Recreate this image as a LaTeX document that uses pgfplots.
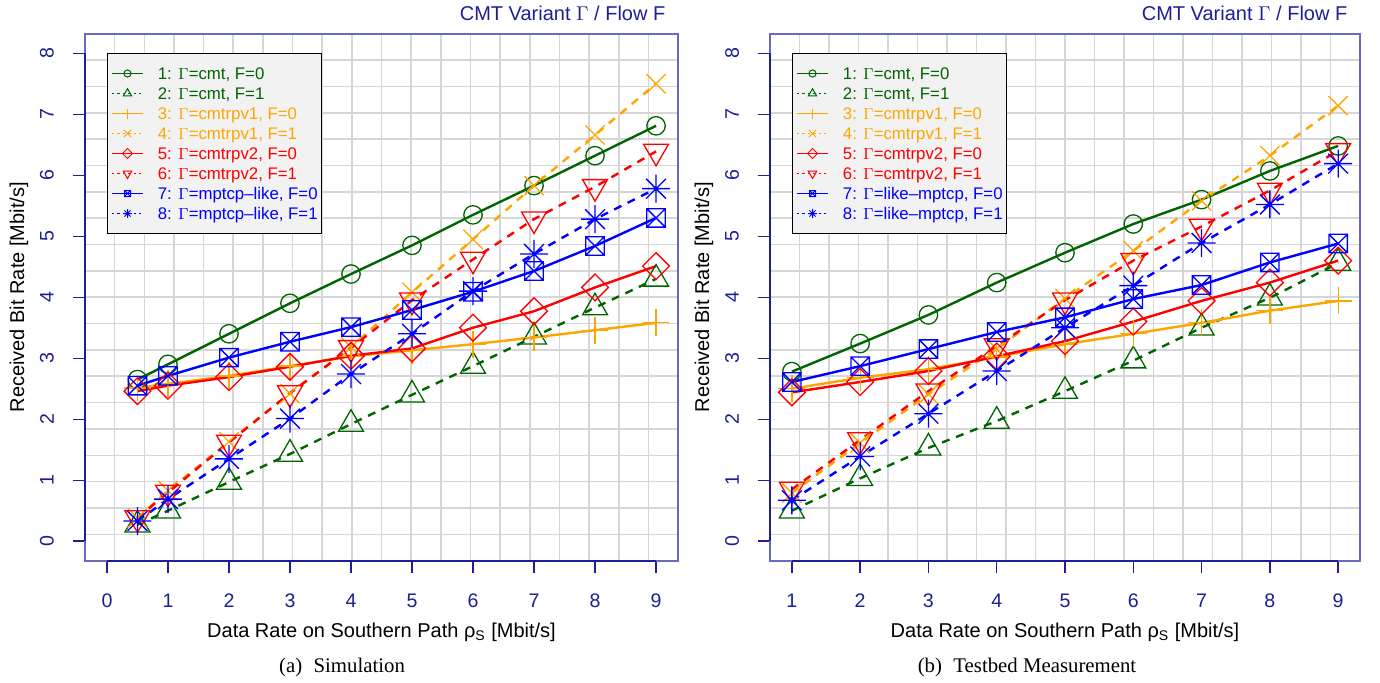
\documentclass[border=0pt]{standalone}
\usepackage{fontspec}
\setmainfont{Liberation Sans}
\newfontfamily\capfont{Liberation Serif}
\usepackage{pgfplots}
\usepackage{pgfplotstable}
\pgfplotsset{compat=1.18}

\definecolor{cgreen}{RGB}{0,100,0}
\definecolor{corange}{RGB}{255,165,0}
\definecolor{cred}{RGB}{255,0,0}
\definecolor{cblue}{RGB}{0,0,255}
\definecolor{navy}{RGB}{30,30,150}
\definecolor{boxc}{RGB}{105,105,195}
\definecolor{gridc}{RGB}{214,214,214}

% R-like plotting symbols
\pgfdeclareplotmark{boxx}{%
  \pgfpathrectangle{\pgfqpoint{-\pgfplotmarksize}{-\pgfplotmarksize}}{\pgfqpoint{2\pgfplotmarksize}{2\pgfplotmarksize}}%
  \pgfpathmoveto{\pgfqpoint{-\pgfplotmarksize}{-\pgfplotmarksize}}\pgfpathlineto{\pgfqpoint{\pgfplotmarksize}{\pgfplotmarksize}}%
  \pgfpathmoveto{\pgfqpoint{-\pgfplotmarksize}{\pgfplotmarksize}}\pgfpathlineto{\pgfqpoint{\pgfplotmarksize}{-\pgfplotmarksize}}%
  \pgfusepathqstroke}
\pgfdeclareplotmark{star8}{%
  \pgfpathmoveto{\pgfqpoint{-\pgfplotmarksize}{0pt}}\pgfpathlineto{\pgfqpoint{\pgfplotmarksize}{0pt}}%
  \pgfpathmoveto{\pgfqpoint{0pt}{-\pgfplotmarksize}}\pgfpathlineto{\pgfqpoint{0pt}{\pgfplotmarksize}}%
  \pgfpathmoveto{\pgfqpoint{-.7071\pgfplotmarksize}{-.7071\pgfplotmarksize}}\pgfpathlineto{\pgfqpoint{.7071\pgfplotmarksize}{.7071\pgfplotmarksize}}%
  \pgfpathmoveto{\pgfqpoint{-.7071\pgfplotmarksize}{.7071\pgfplotmarksize}}\pgfpathlineto{\pgfqpoint{.7071\pgfplotmarksize}{-.7071\pgfplotmarksize}}%
  \pgfusepathqstroke}
\pgfdeclareplotmark{tridown}{%
  \pgfpathmoveto{\pgfqpointpolar{-90}{\pgfplotmarksize}}%
  \pgfpathlineto{\pgfqpointpolar{30}{\pgfplotmarksize}}%
  \pgfpathlineto{\pgfqpointpolar{150}{\pgfplotmarksize}}%
  \pgfpathclose\pgfusepathqstroke}
\pgfdeclareplotmark{diam}{%
  \pgfpathmoveto{\pgfqpoint{0pt}{\pgfplotmarksize}}%
  \pgfpathlineto{\pgfqpoint{\pgfplotmarksize}{0pt}}%
  \pgfpathlineto{\pgfqpoint{0pt}{-\pgfplotmarksize}}%
  \pgfpathlineto{\pgfqpoint{-\pgfplotmarksize}{0pt}}%
  \pgfpathclose\pgfusepathqstroke}

\tikzset{rdash/.style={dash pattern=on 4pt off 3.5pt},
         ldash/.style={dash pattern=on 1.2pt off 1.5pt}}

% simulation
\pgfplotstableread{
x    s1   s2   s3   s4   s5   s6   s7   s8
0.5  2.65 0.27 2.51 0.38 2.46 0.38 2.55 0.33
1    2.90 0.50 2.58 0.83 2.55 0.80 2.71 0.69
2    3.40 0.97 2.71 1.63 2.69 1.62 3.01 1.35
3    3.90 1.43 2.87 2.42 2.86 2.43 3.27 2.01
4    4.38 1.92 3.03 3.18 3.04 3.17 3.51 2.74
5    4.85 2.40 3.13 4.08 3.16 3.95 3.79 3.40
6    5.35 2.87 3.23 4.95 3.50 4.62 4.09 4.10
7    5.83 3.35 3.34 5.83 3.77 5.28 4.43 4.71
8    6.32 3.83 3.46 6.66 4.16 5.81 4.84 5.28
9    6.81 4.30 3.58 7.50 4.51 6.39 5.30 5.78
}\simdata

% testbed
\pgfplotstableread{
x    s1   s2   s3   s4   s5   s6   s7   s8
1    2.78 0.50 2.50 0.79 2.44 0.85 2.61 0.67
2    3.24 1.03 2.68 1.61 2.61 1.66 2.87 1.39
3    3.71 1.53 2.82 2.41 2.79 2.46 3.15 2.09
4    4.24 1.97 3.02 3.15 3.03 3.20 3.43 2.79
5    4.73 2.46 3.23 3.98 3.28 3.95 3.67 3.50
6    5.20 2.96 3.40 4.76 3.60 4.60 3.97 4.19
7    5.60 3.50 3.58 5.58 3.94 5.16 4.20 4.89
8    6.07 3.99 3.78 6.32 4.24 5.75 4.57 5.52
9    6.48 4.56 3.94 7.14 4.60 6.40 4.88 6.19
}\bedddata

\pgfplotsset{
  s1/.style={cgreen, mark=o, mark size=4.6pt},
  s2/.style={cgreen, rdash, mark=triangle, mark size=7.2pt},
  s3/.style={corange, mark=+, mark size=6.7pt},
  s4/.style={corange, rdash, mark=x, mark size=6.8pt},
  s5/.style={cred, mark=diam, mark size=6.7pt},
  s6/.style={cred, rdash, mark=tridown, mark size=7.2pt},
  s7/.style={cblue, mark=boxx, mark size=4.6pt},
  s8/.style={cblue, rdash, mark=star8, mark size=7pt},
  lg/.style={line width=0.5pt, mark options={solid, line width=0.5pt}},
  rplot/.style={
    scale only axis, height=263.5pt, anchor=south west,
    ymin=-0.32, ymax=8.32, ytick={0,...,8},
    minor ytick={0.112,0.544,...,7.9},
    clip=false,
    xtick pos=lower, ytick pos=left,
    tick align=outside, major tick length=6.2pt, minor tick length=0pt,
    xticklabel shift=13.8pt, yticklabel shift=12.8pt,
    tick style={navy, line width=0.7pt},
    axis line style={boxc, line width=0.8pt},
    xminorgrids=true, yminorgrids=true,
    minor grid style={gridc, line width=0.8pt},
    /pgf/number format/assume math mode=true,
    ticklabel style={font=\fontsize{9.8}{11}\selectfont, text=navy},
    xticklabel style={anchor=center},
    yticklabel style={rotate=90, anchor=center},
    label style={font=\fontsize{10.6}{12}\selectfont, text=navy},
    every axis x label/.style={at={(axis description cs:0.5,0)}, anchor=center, yshift=-35.6pt},
    every axis y label/.style={at={(axis description cs:0,0.5)}, rotate=90, anchor=center, yshift=33pt},
    xlabel={Data Rate on Southern Path ρ\textsubscript{S} [Mbit/s]},
    ylabel={Received Bit Rate [Mbit/s]},
    title={CMT Variant $\Gamma$ / Flow F},
    every axis title shift=0pt,
    title style={at={(axis description cs:1,1)}, anchor=base east, yshift=6.5pt, xshift=-2.8pt,
      font=\fontsize{10}{12}\selectfont, text=navy},
    every axis plot/.append style={line width=1.2pt, mark options={solid, line width=0.65pt}},
    legend image code/.code={\draw[mark repeat=2,mark phase=2,##1] plot coordinates {(0pt,0pt) (7.75pt,0pt) (15.5pt,0pt)};},
    legend style={at={(0,1)}, anchor=north west, xshift=11pt, yshift=-9.65pt,
      draw=black, line width=0.5pt, fill=gray!10, inner xsep=2pt, inner ysep=5pt,
      font=\fontsize{8.4}{10}\selectfont, row sep=0pt, column sep=7.2pt,
      nodes={inner sep=0pt, text height=8pt, text depth=2pt},
      cells={anchor=west}},
  },
}

\newcommand{\rlegend}[1]{%
  \addlegendimage{lg, cgreen, mark=o, mark size=1.8pt}
  \addlegendentry{\textcolor{cgreen}{1: $\Gamma$=cmt, F=0}}
  \addlegendimage{lg, cgreen, ldash, mark=triangle, mark size=2.4pt}
  \addlegendentry{\textcolor{cgreen}{2: $\Gamma$=cmt, F=1}}
  \addlegendimage{lg, corange, mark=+, mark size=2.5pt}
  \addlegendentry{\textcolor{corange}{3: $\Gamma$=cmtrpv1, F=0}}
  \addlegendimage{lg, corange, ldash, mark=x, mark size=2.6pt}
  \addlegendentry{\textcolor{corange}{4: $\Gamma$=cmtrpv1, F=1}}
  \addlegendimage{lg, cred, mark=diam, mark size=2.5pt}
  \addlegendentry{\textcolor{cred}{5: $\Gamma$=cmtrpv2, F=0}}
  \addlegendimage{lg, cred, ldash, mark=tridown, mark size=2.5pt}
  \addlegendentry{\textcolor{cred}{6: $\Gamma$=cmtrpv2, F=1}}
  \addlegendimage{lg, cblue, mark=boxx, mark size=1.5pt}
  \addlegendentry{\textcolor{cblue}{7: $\Gamma$=#1, F=0}}
  \addlegendimage{lg, cblue, ldash, mark=star8, mark size=2.2pt}
  \addlegendentry{\textcolor{cblue}{8: $\Gamma$=#1, F=1}}
}

\newcommand{\rseries}[1]{%
  \addplot[s1, forget plot] table[x=x, y=s1] {#1};
  \addplot[s2, forget plot] table[x=x, y=s2] {#1};
  \addplot[s3, forget plot] table[x=x, y=s3] {#1};
  \addplot[s4, forget plot] table[x=x, y=s4] {#1};
  \addplot[s5, forget plot] table[x=x, y=s5] {#1};
  \addplot[s6, forget plot] table[x=x, y=s6] {#1};
  \addplot[s7, forget plot] table[x=x, y=s7] {#1};
  \addplot[s8, forget plot] table[x=x, y=s8] {#1};
}

\begin{document}
\begin{tikzpicture}
\useasboundingbox (0,0) rectangle (690pt,-341pt);

\begin{axis}[rplot, at={(42.5pt,-280.35pt)}, width=296.5pt,
  xmin=-0.36, xmax=9.36, xtick={0,...,9},
  minor xtick={0.126,0.612,...,8.9}]
\rlegend{mptcp--like}
\rseries{\simdata}
\draw[navy, line width=0.8pt] ({axis cs:0,0} |- {axis description cs:0,0}) -- ({axis cs:9,0} |- {axis description cs:0,0});
\draw[navy, line width=0.8pt] ({axis description cs:0,0} |- {axis cs:0,0}) -- ({axis description cs:0,0} |- {axis cs:0,8});
\end{axis}

\begin{axis}[rplot, at={(385pt,-280.35pt)}, width=295pt,
  xmin=0.68, xmax=9.32, xtick={1,...,9},
  minor xtick={1.112,1.544,...,8.9}]
\rlegend{like--mptcp}
\rseries{\bedddata}
\draw[navy, line width=0.8pt] ({axis cs:1,0} |- {axis description cs:0,0}) -- ({axis cs:9,0} |- {axis description cs:0,0});
\draw[navy, line width=0.8pt] ({axis description cs:0,0} |- {axis cs:0,0}) -- ({axis description cs:0,0} |- {axis cs:0,8});
\end{axis}

\node[font=\capfont\fontsize{10.4}{12}\selectfont] at (171pt,-333.5pt) {(a)\hspace{0.55em}Simulation};
\node[font=\capfont\fontsize{10.4}{12}\selectfont] at (513.5pt,-333.5pt) {(b)\hspace{0.55em}Testbed Measurement};
\end{tikzpicture}
\end{document}
